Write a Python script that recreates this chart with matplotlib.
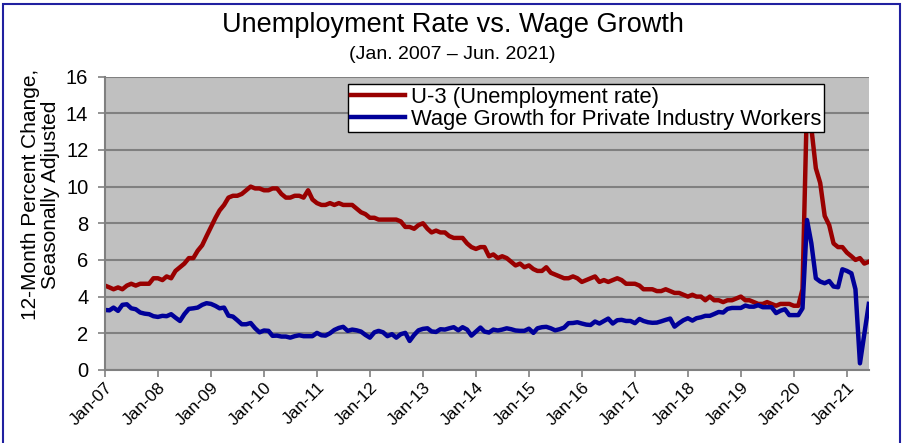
import matplotlib.pyplot as plt
import matplotlib.dates as mdates
from matplotlib.patches import Rectangle
import pandas as pd

plt.rcParams['font.family'] = ['Liberation Sans', 'DejaVu Sans']

# monthly, Jan 2007 - Jun 2021
months = pd.date_range('2007-01-01', '2021-06-01', freq='MS')

# U-3 unemployment rate (%)
u3 = [
    4.6, 4.5, 4.4, 4.5, 4.4, 4.6, 4.7, 4.6, 4.7, 4.7, 4.7, 5.0,   # 2007
    5.0, 4.9, 5.1, 5.0, 5.4, 5.6, 5.8, 6.1, 6.1, 6.5, 6.8, 7.3,   # 2008
    7.8, 8.3, 8.7, 9.0, 9.4, 9.5, 9.5, 9.6, 9.8, 10.0, 9.9, 9.9,  # 2009
    9.8, 9.8, 9.9, 9.9, 9.6, 9.4, 9.4, 9.5, 9.5, 9.4, 9.8, 9.3,   # 2010
    9.1, 9.0, 9.0, 9.1, 9.0, 9.1, 9.0, 9.0, 9.0, 8.8, 8.6, 8.5,   # 2011
    8.3, 8.3, 8.2, 8.2, 8.2, 8.2, 8.2, 8.1, 7.8, 7.8, 7.7, 7.9,   # 2012
    8.0, 7.7, 7.5, 7.6, 7.5, 7.5, 7.3, 7.2, 7.2, 7.2, 6.9, 6.7,   # 2013
    6.6, 6.7, 6.7, 6.2, 6.3, 6.1, 6.2, 6.1, 5.9, 5.7, 5.8, 5.6,   # 2014
    5.7, 5.5, 5.4, 5.4, 5.6, 5.3, 5.2, 5.1, 5.0, 5.0, 5.1, 5.0,   # 2015
    4.8, 4.9, 5.0, 5.1, 4.8, 4.9, 4.8, 4.9, 5.0, 4.9, 4.7, 4.7,   # 2016
    4.7, 4.6, 4.4, 4.4, 4.4, 4.3, 4.3, 4.4, 4.3, 4.2, 4.2, 4.1,   # 2017
    4.0, 4.1, 4.0, 4.0, 3.8, 4.0, 3.8, 3.8, 3.7, 3.8, 3.8, 3.9,   # 2018
    4.0, 3.8, 3.8, 3.7, 3.6, 3.6, 3.7, 3.6, 3.5, 3.6, 3.6, 3.6,   # 2019
    3.5, 3.5, 4.4, 14.7, 13.2, 11.0, 10.2, 8.4, 7.9, 6.9, 6.7, 6.7,  # 2020
    6.4, 6.2, 6.0, 6.1, 5.8, 5.9,                                  # 2021
]

# wage growth, private industry workers (12-month % change)
wages = [
    3.27, 3.25, 3.40, 3.22, 3.55, 3.58, 3.36, 3.31, 3.13, 3.07, 3.04, 2.93,
    2.89, 2.95, 2.93, 3.04, 2.85, 2.67, 3.04, 3.33, 3.36, 3.40, 3.55, 3.64,
    3.60, 3.49, 3.36, 3.40, 2.96, 2.91, 2.71, 2.49, 2.49, 2.56, 2.27, 2.05,
    2.15, 2.13, 1.86, 1.87, 1.82, 1.82, 1.76, 1.84, 1.89, 1.84, 1.84, 1.84,
    2.02, 1.89, 1.87, 2.00, 2.18, 2.29, 2.35, 2.13, 2.20, 2.16, 2.09, 1.91,
    1.76, 2.05, 2.13, 2.05, 1.84, 1.95, 1.76, 1.95, 2.02, 1.58, 1.91, 2.16,
    2.24, 2.27, 2.10, 2.07, 2.22, 2.20, 2.27, 2.33, 2.16, 2.33, 2.20, 1.87,
    2.09, 2.31, 2.09, 2.04, 2.20, 2.15, 2.20, 2.27, 2.22, 2.15, 2.13, 2.13,
    2.25, 2.02, 2.27, 2.33, 2.35, 2.27, 2.16, 2.22, 2.31, 2.55, 2.56, 2.60,
    2.53, 2.47, 2.45, 2.64, 2.53, 2.67, 2.80, 2.53, 2.71, 2.73, 2.67, 2.67,
    2.55, 2.78, 2.67, 2.60, 2.57, 2.58, 2.65, 2.73, 2.80, 2.36, 2.55, 2.71,
    2.82, 2.69, 2.82, 2.87, 2.95, 2.95, 3.05, 3.16, 3.13, 3.33, 3.38, 3.38,
    3.38, 3.51, 3.45, 3.45, 3.53, 3.42, 3.42, 3.42, 3.10, 3.23, 3.31, 2.99,
    2.99, 2.99, 3.36, 8.18, 6.91, 5.00, 4.82, 4.73, 4.85, 4.55, 4.51, 5.49,
    5.40, 5.27, 4.40, 0.36, 1.96, 3.60,
]

fig = plt.figure(figsize=(9.05, 4.43), dpi=100)
ax = fig.add_axes([0.116, 0.165, 0.844, 0.662])
ax.set_facecolor('#C0C0C0')

ax.plot(months, u3, color='#990000', linewidth=3.2, label='U-3 (Unemployment rate)')
ax.plot(months, wages, color='#000099', linewidth=3.2,
        label='Wage Growth for Private Industry Workers')

ax.set_ylim(0, 16)
ax.set_yticks(range(0, 17, 2))
ax.set_xlim(months[0], months[-1])
ax.xaxis.set_major_locator(mdates.YearLocator(month=1))
ax.xaxis.set_major_formatter(mdates.DateFormatter('%b-%y'))

ax.grid(True, axis='y', color='#808080', linewidth=1.5)
ax.set_axisbelow(True)
for s in ['top', 'right']:
    ax.spines[s].set_visible(False)
for s in ['left', 'bottom']:
    ax.spines[s].set_color('#808080')
    ax.spines[s].set_linewidth(1.5)
ax.tick_params(axis='y', labelsize=14.5, length=5, width=1.2, color='#808080', pad=7)
ax.tick_params(axis='x', labelsize=12.5, length=5, width=1.2, color='#808080', pad=2)
for lbl in ax.get_xticklabels():
    lbl.set_rotation(45)
    lbl.set_ha('right')
    lbl.set_rotation_mode('anchor')

leg = ax.legend(loc='upper left', bbox_to_anchor=(0.318, 0.975), borderaxespad=0,
                fontsize=15.8, frameon=True, fancybox=False, framealpha=1,
                edgecolor='black', handlelength=2.5, handletextpad=0.25,
                labelspacing=0.05, borderpad=0.12)
leg.get_frame().set_linewidth(1)

fig.text(0.5, 0.943, 'Unemployment Rate vs. Wage Growth', ha='center', va='center', fontsize=19.5)
fig.text(0.5, 0.878, '(Jan. 2007 \u2013 Jun. 2021)', ha='center', va='center', fontsize=14)
fig.text(0.045, 0.56, '12-Month Percent Change,\nSeasonally Adjusted', rotation=90,
         ha='center', va='center', fontsize=15, linespacing=1.1, multialignment='center')

# outer border
fig.patches.append(Rectangle((0.003, -0.01), 0.991, 1.0, transform=fig.transFigure,
                             fill=False, edgecolor='#2020A0', linewidth=1.5))

fig.savefig('out.png', dpi=100)
